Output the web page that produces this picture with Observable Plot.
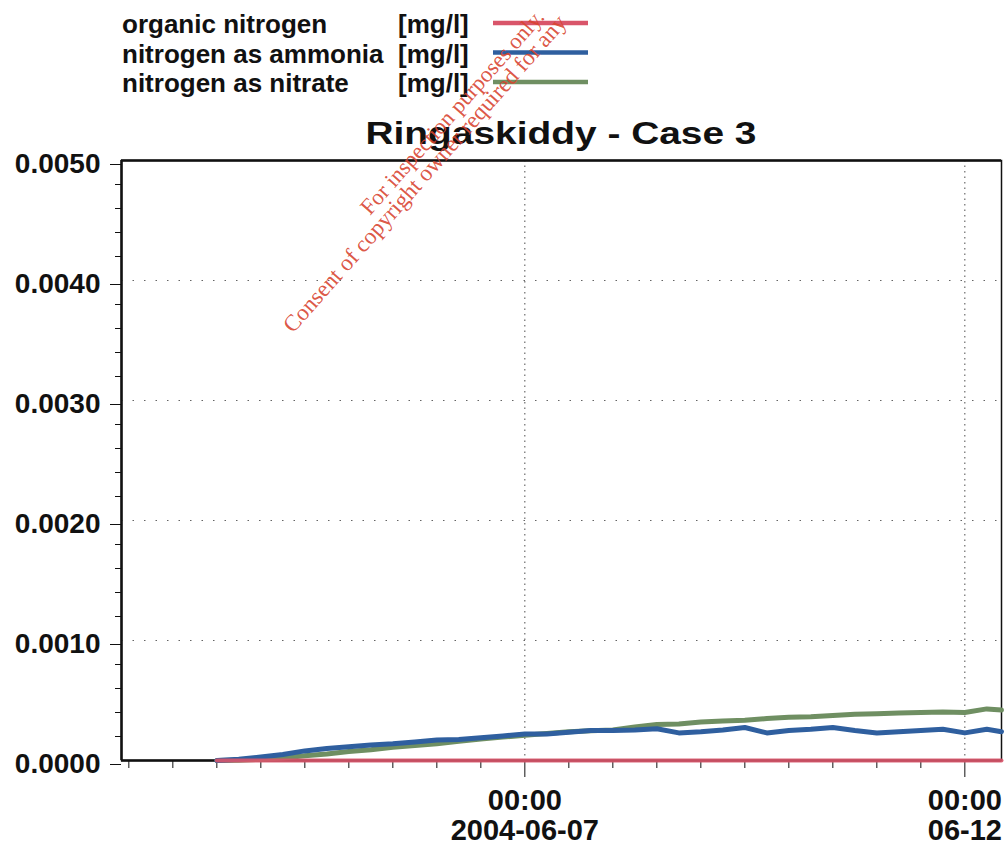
<!DOCTYPE html>
<html>
<head>
<meta charset="utf-8">
<script src="https://cdn.jsdelivr.net/npm/d3@7"></script>
<script src="https://cdn.jsdelivr.net/npm/@observablehq/plot@0.6"></script>
<style>
  html, body { margin: 0; padding: 0; background: #fff; }
  body { width: 1007px; height: 847px; position: relative; overflow: hidden; font-family: "Liberation Sans", Arial, sans-serif; }
  #header { position: relative; width: 1007px; height: 145px; }
  #header svg { position: absolute; left: 0; top: 0; overflow: visible; display: block; z-index: 2; pointer-events: none; }
  #chart svg { display: block; overflow: visible; }
  #watermark { position: absolute; left: 0; top: 0; pointer-events: none; z-index: 3; }
</style>
</head>
<body>
<div id="header"></div>
<div id="chart"></div>
<script>
// ---- data ----
const seriesNames = ["organic nitrogen", "nitrogen as ammonia", "nitrogen as nitrate"];
const seriesUnits = ["[mg/l]", "[mg/l]", "[mg/l]"];
const seriesColors = ["#d9556a", "#2f5f9f", "#6f8f62"];

const times = [
  "2004-06-03T12:00Z","2004-06-03T18:00Z",
  "2004-06-04T00:00Z","2004-06-04T06:00Z","2004-06-04T12:00Z","2004-06-04T18:00Z",
  "2004-06-05T00:00Z","2004-06-05T06:00Z","2004-06-05T12:00Z","2004-06-05T18:00Z",
  "2004-06-06T00:00Z","2004-06-06T06:00Z","2004-06-06T12:00Z","2004-06-06T18:00Z",
  "2004-06-07T00:00Z","2004-06-07T06:00Z","2004-06-07T12:00Z","2004-06-07T18:00Z",
  "2004-06-08T00:00Z","2004-06-08T06:00Z","2004-06-08T12:00Z","2004-06-08T18:00Z",
  "2004-06-09T00:00Z","2004-06-09T06:00Z","2004-06-09T12:00Z","2004-06-09T18:00Z",
  "2004-06-10T00:00Z","2004-06-10T06:00Z","2004-06-10T12:00Z","2004-06-10T18:00Z",
  "2004-06-11T00:00Z","2004-06-11T06:00Z","2004-06-11T12:00Z","2004-06-11T18:00Z",
  "2004-06-12T00:00Z","2004-06-12T06:00Z","2004-06-12T10:00Z"
];
const organicNitrogen = [
  0,0,0,0,0,0,0,0,0,0,0,0,0,0,0,0,0,0,0,0,0,0,0,0,0,0,0,0,0,0,0,0,0,0,0,0,0
];
const ammoniaNitrogen = [
  0, 0.00001, 0.00003, 0.00005, 0.00008, 0.0001, 0.000115, 0.00013, 0.00014, 0.000155,
  0.00017, 0.000175, 0.00019, 0.000205, 0.00022, 0.00022, 0.000235, 0.00025, 0.00025, 0.000255,
  0.000265, 0.00023, 0.00024, 0.000255, 0.000275, 0.00023, 0.00025, 0.00026, 0.000275, 0.00025,
  0.00023, 0.00024, 0.00025, 0.00026, 0.00023, 0.00026, 0.00024
];
const nitrateNitrogen = [
  0, 0.000003, 0.00001, 0.00002, 0.00004, 0.000055, 0.000075, 0.00009, 0.00011, 0.000125,
  0.00014, 0.00016, 0.00018, 0.000195, 0.00021, 0.000225, 0.00024, 0.000248, 0.000255, 0.00028,
  0.0003, 0.000305, 0.00032, 0.00033, 0.000335, 0.00035, 0.00036, 0.000365, 0.000375, 0.000385,
  0.00039, 0.000395, 0.0004, 0.000405, 0.0004, 0.00043, 0.00042
];

const xDomain = ["2004-06-02T10:00Z", "2004-06-12T10:00Z"];
const yDomain = [0, 0.005];
const yMajorTicks = [0, 0.001, 0.002, 0.003, 0.004, 0.005];
const yMinorTicks = [0.0002,0.0004,0.0006,0.0008,0.0012,0.0014,0.0016,0.0018,0.0022,0.0024,0.0026,0.0028,
                     0.0032,0.0034,0.0036,0.0038,0.0042,0.0044,0.0046,0.0048];
const xLabelTicks = ["2004-06-07T00:00Z", "2004-06-12T00:00Z"];
const xLabelText = ["00:00\n2004-06-07", "00:00\n06-12"];
const xMinorTicks = [
  "2004-06-02T12:00Z","2004-06-03T00:00Z","2004-06-03T12:00Z","2004-06-04T00:00Z","2004-06-04T12:00Z",
  "2004-06-05T00:00Z","2004-06-05T12:00Z","2004-06-06T00:00Z","2004-06-06T12:00Z","2004-06-07T12:00Z",
  "2004-06-08T00:00Z","2004-06-08T12:00Z","2004-06-09T00:00Z","2004-06-09T12:00Z","2004-06-10T00:00Z",
  "2004-06-10T12:00Z","2004-06-11T00:00Z","2004-06-11T12:00Z"
];
const titleText = "Ringaskiddy - Case 3";
const watermarkLines = ["For inspection purposes only.", "Consent of copyright owner required for any"];

// ---- build table ----
const seriesValues = [organicNitrogen, ammoniaNitrogen, nitrateNitrogen];
const rows = [];
seriesValues.forEach((vals, s) => {
  vals.forEach((v, i) => rows.push({series: seriesNames[s], time: new Date(times[i]), value: v}));
});
const D = s => new Date(s);

// ---- header: legend + title ----
const header = d3.select("#header").append("svg").attr("width", 1007).attr("height", 162);
const rowBase = [33, 63, 92];
const lineY = [23, 52.5, 82];
seriesNames.forEach((name, i) => {
  header.append("text").attr("x", 122).attr("y", rowBase[i])
    .attr("font-family", "Liberation Sans, Arial, sans-serif").attr("font-weight", "bold")
    .attr("font-size", 26).attr("fill", "#111").text(name);
  header.append("text").attr("x", 398).attr("y", rowBase[i])
    .attr("font-family", "Liberation Sans, Arial, sans-serif").attr("font-weight", "bold")
    .attr("font-size", 26).attr("fill", "#111").text(seriesUnits[i]);
  header.append("line").attr("x1", 493).attr("x2", 588).attr("y1", lineY[i]).attr("y2", lineY[i])
    .attr("stroke", seriesColors[i]).attr("stroke-width", 4.5);
});
header.append("text").attr("x", 561).attr("y", 144).attr("text-anchor", "middle")
  .attr("font-family", "Liberation Sans, Arial, sans-serif").attr("font-weight", "bold")
  .attr("font-size", 31).attr("fill", "#111")
  .attr("textLength", 391).attr("lengthAdjust", "spacingAndGlyphs")
  .text(titleText);

// ---- chart ----
const chart = Plot.plot({
  width: 1007,
  height: 702,
  marginTop: 15,
  marginBottom: 87,
  marginLeft: 121,
  marginRight: 6,
  style: {fontFamily: "Liberation Sans, Arial, sans-serif", color: "#111", background: "transparent"},
  x: {type: "utc", domain: xDomain.map(D), axis: null, label: null},
  y: {domain: yDomain, axis: null, label: null},
  color: {domain: seriesNames, range: seriesColors},
  marks: [
    Plot.ruleY(yMajorTicks.slice(1, -1), {stroke: "#222", strokeWidth: 1, strokeDasharray: "1.5,10", strokeOpacity: 0.7}),
    Plot.ruleX(xLabelTicks.map(D), {stroke: "#222", strokeWidth: 1, strokeDasharray: "1.5,4", strokeOpacity: 0.8}),
    Plot.axisY(yMinorTicks, {tickSize: 6, tickFormat: () => "", stroke: "#111", label: null}),
    Plot.axisY(yMajorTicks, {tickSize: 11, tickPadding: 10, tickFormat: d3.format(".4f"),
      fontSize: 28, fontWeight: "bold", dy: 4, stroke: "#111", label: null}),
    Plot.axisX(xMinorTicks.map(D), {tickSize: 8, tickFormat: () => "", stroke: "#111", label: null}),
    Plot.axisX(xLabelTicks.map(D), {tickSize: 17, tickPadding: 11, fontSize: 29, fontWeight: "bold",
      lineHeight: 1.03, tickFormat: (d, i) => xLabelText[i], stroke: "#111", label: null}),
    Plot.frame({stroke: "#111", strokeWidth: 1.5}),
    Plot.ruleX([D(xDomain[0])], {stroke: "#111", strokeWidth: 2.5}),
    Plot.ruleY([0], {stroke: "#111", strokeWidth: 2.5}),
    Plot.ruleY([yDomain[1]], {stroke: "#111", strokeWidth: 2.5}),
    Plot.lineY(rows.filter(r => r.series === seriesNames[2]), {x: "time", y: "value", stroke: "series", strokeWidth: 5}),
    Plot.lineY(rows.filter(r => r.series === seriesNames[1]), {x: "time", y: "value", stroke: "series", strokeWidth: 5}),
    Plot.lineY(rows.filter(r => r.series === seriesNames[0]), {x: "time", y: "value", stroke: "series", strokeWidth: 4, strokeOpacity: 0.9})
  ]
});
document.getElementById("chart").appendChild(chart);

// ---- watermark overlay (as seen on the scanned page) ----
const wm = d3.select("body").append("svg").attr("id", "watermark").attr("width", 1007).attr("height", 847);
const wmPos = [[370, 216], [293, 334]];
const wmSize = [22.5, 23.2];
watermarkLines.forEach((t, i) => {
  wm.append("text").attr("transform", `translate(${wmPos[i][0]},${wmPos[i][1]}) rotate(-48.5)`)
    .attr("font-family", "Liberation Serif, Times New Roman, serif").attr("font-size", wmSize[i])
    .attr("fill", "#d8432f").attr("fill-opacity", 0.9).text(t);
});
</script>
</body>
</html>
